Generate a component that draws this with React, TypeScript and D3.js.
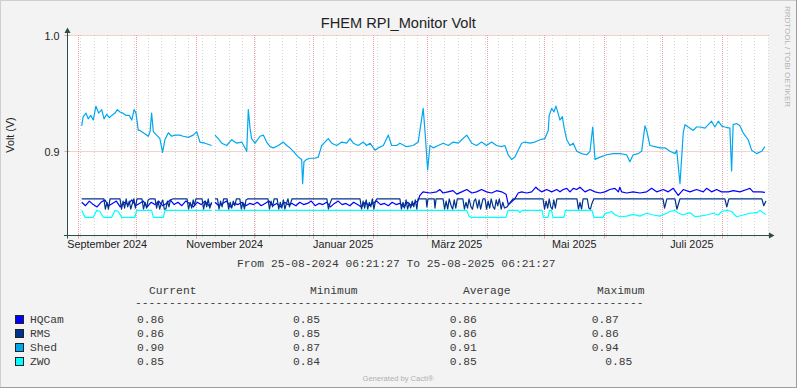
import React from 'react';
import * as d3 from 'd3';

const W = 797;
const H = 388;
const START = new Date(2024, 7, 25, 6, 21, 27);
const END = new Date(2025, 7, 25, 6, 21, 27);
const DAY = 86400000;

type P = [number, number] | null; // [days since START, volt]

const shed: P[] = [[8.5,0.922],[9.3,0.930],[10.7,0.933],[11.9,0.928],[13.2,0.931],[14.5,0.927],[15.9,0.939],[17.3,0.933],[18.9,0.936],[20.1,0.928],[21.5,0.932],[22.8,0.929],[24.1,0.931],[25.8,0.933],[27.0,0.936],[28.4,0.934],[29.8,0.933],[31.5,0.931],[33.2,0.931],[34.5,0.927],[35.7,0.936],[36.7,0.933],[37.9,0.918],[38.8,0.918],[40.5,0.916],[43.1,0.913],[44.0,0.917],[44.8,0.933],[45.7,0.917],[47.4,0.914],[49.1,0.911],[50.5,0.899],[51.7,0.910],[53.5,0.916],[55.2,0.913],[56.9,0.914],[59.5,0.914],[61.2,0.913],[63.8,0.912],[66.4,0.914],[68.2,0.917],[69.9,0.908],[72.5,0.907],[76.0,0.905],null,[77.7,0.914],[79.4,0.911],[81.2,0.907],[83.8,0.905],[86.4,0.910],[89.0,0.907],[91.6,0.908],[94.2,0.900],[95.0,0.936],[95.9,0.920],[96.7,0.911],[98.5,0.907],[101.1,0.913],[102.8,0.914],[104.5,0.908],[106.3,0.904],[108.0,0.903],[110.6,0.905],[113.2,0.908],[114.9,0.905],[116.6,0.903],[118.4,0.900],[121.0,0.895],[122.7,0.893],[123.2,0.872],[123.9,0.891],[125.3,0.893],[127.0,0.894],[129.6,0.894],[131.3,0.895],[133.1,0.905],[134.8,0.908],[136.5,0.911],[138.3,0.907],[140.9,0.905],[143.5,0.908],[146.1,0.907],[147.8,0.911],[149.5,0.907],[152.1,0.905],[154.7,0.908],[156.4,0.905],[158.2,0.907],[160.8,0.901],[162.5,0.903],[165.1,0.905],[167.7,0.914],[169.4,0.905],[172.0,0.905],[173.7,0.907],[177.2,0.904],[180.6,0.905],[183.2,0.908],[185.8,0.937],[186.7,0.918],[188.1,0.884],[189.3,0.905],[191.0,0.903],[193.6,0.905],[196.2,0.907],[198.8,0.905],[201.4,0.908],[204.0,0.907],[205.8,0.910],[208.4,0.914],[211.0,0.907],[213.5,0.905],[216.1,0.908],[218.7,0.905],[221.3,0.908],[223.9,0.905],[226.5,0.904],[228.2,0.905],[229.9,0.897],[231.7,0.893],[233.4,0.895],[235.1,0.901],[236.9,0.907],[238.6,0.908],[241.2,0.907],[243.8,0.908],[246.4,0.910],[249.0,0.911],[250.7,0.918],[251.2,0.931],[252.5,0.937],[253.7,0.934],[254.7,0.939],[255.8,0.933],[256.8,0.927],[258.0,0.930],[259.0,0.920],[260.3,0.910],[262.0,0.905],[263.7,0.907],[265.5,0.900],[268.1,0.898],[270.7,0.897],[272.4,0.900],[273.8,0.921],[275.0,0.893],[277.6,0.895],[281.0,0.897],[284.5,0.898],[287.9,0.898],[291.4,0.897],[293.1,0.891],[294.8,0.897],[297.4,0.898],[299.2,0.900],[300.9,0.922],[301.8,0.918],[303.5,0.905],[306.1,0.904],[308.7,0.903],[311.3,0.903],[313.9,0.900],[316.5,0.898],[317.4,0.901],[319.1,0.872],[320.8,0.916],[321.7,0.923],[324.3,0.920],[326.0,0.918],[327.7,0.921],[329.5,0.921],[332.1,0.920],[333.8,0.923],[335.5,0.926],[337.2,0.921],[339.0,0.926],[340.7,0.922],[342.4,0.921],[345.0,0.920],[345.9,0.883],[346.7,0.923],[348.5,0.924],[350.2,0.922],[351.9,0.916],[354.5,0.910],[356.3,0.901],[358.9,0.898],[361.5,0.900],[363.2,0.904]];

const zwo: P[] = [[8.5,0.849],[10.2,0.843],[14.5,0.843],[16.3,0.849],[18.0,0.848],[19.7,0.843],[24.1,0.843],[25.8,0.849],[27.5,0.848],[29.3,0.843],[36.2,0.843],[37.0,0.849],[44.8,0.849],[45.7,0.843],[50.9,0.843],[51.7,0.849],[76.0,0.849],null,[77.7,0.849],[208.4,0.849],[209.6,0.844],[210.6,0.843],[228.8,0.843],[229.8,0.849],[235.0,0.849],[236.0,0.847],[237.1,0.849],[247.5,0.849],[248.2,0.843],[250.6,0.843],[251.4,0.849],[252.4,0.849],[253.2,0.843],[258.9,0.843],[259.6,0.849],[273.4,0.849],[274.4,0.843],[279.1,0.843],[280.1,0.846],[283.6,0.848],[285.4,0.845],[288.0,0.8435],[291.4,0.844],[294.8,0.8455],[298.3,0.844],[301.8,0.8465],[305.2,0.845],[308.7,0.844],[312.2,0.8465],[313.9,0.848],[316.5,0.849],[318.0,0.847],[320.6,0.845],[324.3,0.847],[326.9,0.8435],[329.5,0.844],[332.9,0.845],[336.4,0.8465],[339.0,0.845],[340.7,0.848],[343.3,0.849],[345.9,0.848],[348.5,0.8435],[351.9,0.845],[355.4,0.8465],[358.9,0.847],[360.6,0.849],[362.3,0.847],[363.7,0.8455]];

const rms: P[] = [[8.5,0.859],[20.0,0.859],[20.8,0.850],[21.6,0.856],[22.4,0.850],[23.2,0.859],[28.4,0.859],[29.2,0.850],[30.0,0.857],[30.8,0.851],[31.6,0.859],[32.4,0.852],[33.2,0.857],[34.0,0.850],[34.8,0.855],[35.6,0.859],[36.4,0.851],[37.2,0.859],[39.8,0.859],[40.6,0.850],[41.4,0.856],[42.2,0.851],[43.0,0.858],[44.0,0.859],[46.6,0.859],[47.4,0.851],[48.2,0.857],[49.0,0.850],[49.8,0.855],[50.6,0.858],[51.4,0.850],[52.2,0.850],[53.0,0.857],[53.8,0.852],[54.6,0.858],[55.9,0.859],[63.2,0.859],[64.0,0.850],[64.8,0.856],[65.6,0.851],[66.4,0.858],[67.0,0.853],[67.8,0.859],[71.0,0.859],[71.8,0.850],[72.6,0.857],[73.4,0.852],[74.2,0.859],[75.0,0.851],[76.0,0.856],null,[77.7,0.859],[79.0,0.859],[79.8,0.850],[80.6,0.857],[81.4,0.852],[82.2,0.859],[84.0,0.859],[84.8,0.850],[85.6,0.856],[86.4,0.851],[87.2,0.857],[88.0,0.853],[88.8,0.859],[90.6,0.859],[91.4,0.850],[92.2,0.856],[93.0,0.850],[93.8,0.858],[94.8,0.859],[105.2,0.859],[106.0,0.850],[106.8,0.857],[107.6,0.852],[108.4,0.859],[110.0,0.859],[110.8,0.850],[111.6,0.856],[112.4,0.851],[113.2,0.858],[114.0,0.850],[114.8,0.855],[115.6,0.859],[116.4,0.852],[117.7,0.859],[135.8,0.859],[136.6,0.850],[137.4,0.855],[138.4,0.859],[153.0,0.859],[153.8,0.850],[154.6,0.857],[155.4,0.851],[156.2,0.858],[157.0,0.850],[157.8,0.856],[158.6,0.852],[159.4,0.859],[160.2,0.850],[161.0,0.857],[161.8,0.859],[173.7,0.859],[174.5,0.850],[175.3,0.856],[176.1,0.851],[176.9,0.858],[177.7,0.850],[178.5,0.855],[179.3,0.851],[180.1,0.857],[180.9,0.852],[181.7,0.858],[182.5,0.850],[183.1,0.859],[187.3,0.859],[187.7,0.852],[188.3,0.859],[191.5,0.859],[191.9,0.851],[192.5,0.859],[196.1,0.859],[196.9,0.850],[197.7,0.857],[198.5,0.850],[199.3,0.859],[200.3,0.853],[201.1,0.850],[201.9,0.858],[202.7,0.851],[203.5,0.859],[206.4,0.859],[207.2,0.850],[208.0,0.856],[208.8,0.851],[209.6,0.859],[210.6,0.852],[211.4,0.850],[212.2,0.857],[213.0,0.859],[214.0,0.851],[214.8,0.858],[215.6,0.850],[216.8,0.859],[217.9,0.859],[218.7,0.850],[219.5,0.857],[220.3,0.851],[221.1,0.859],[222.1,0.852],[222.9,0.850],[223.7,0.858],[224.5,0.853],[225.3,0.859],[226.3,0.850],[227.1,0.856],[228.0,0.851],[229.3,0.852],[232.4,0.859],[248.0,0.859],[248.8,0.850],[249.6,0.857],[250.4,0.851],[251.2,0.859],[252.0,0.852],[252.8,0.850],[253.6,0.858],[254.4,0.851],[255.2,0.859],[265.6,0.859],[266.4,0.850],[267.2,0.856],[268.0,0.850],[268.8,0.859],[271.0,0.859],[271.8,0.851],[272.6,0.850],[273.4,0.855],[274.4,0.859],[310.3,0.859],[311.1,0.851],[312.3,0.859],[316.5,0.859],[317.5,0.850],[319.1,0.859],[342.4,0.859],[343.4,0.852],[344.5,0.859],[361.6,0.859],[362.6,0.853],[363.7,0.857]];

const hqcam: P[] = [[8.5,0.856],[10.5,0.853],[12.5,0.857],[14.5,0.854],[16.5,0.852],[18.5,0.856],[20.5,0.858],[22.5,0.853],[24.5,0.855],[26.5,0.857],[28.5,0.852],[30.5,0.856],[32.5,0.854],[34.5,0.858],[36.5,0.853],[38.5,0.855],[40.5,0.857],[42.5,0.852],[44.5,0.856],[46.5,0.854],[48.5,0.857],[50.5,0.853],[52.5,0.855],[54.5,0.858],[56.5,0.854],[58.5,0.856],[60.5,0.853],[62.5,0.857],[64.5,0.855],[66.5,0.852],[68.5,0.856],[70.5,0.854],[72.5,0.857],[74.5,0.853],[76.0,0.855],null,[77.7,0.856],[79.7,0.853],[81.7,0.855],[83.7,0.857],[85.7,0.852],[87.7,0.855],[89.7,0.854],[91.7,0.856],[93.7,0.853],[95.7,0.855],[97.7,0.854],[99.7,0.856],[101.7,0.853],[103.7,0.855],[105.7,0.857],[107.7,0.853],[109.7,0.855],[111.7,0.852],[113.7,0.856],[115.7,0.854],[117.7,0.855],[119.7,0.853],[121.7,0.856],[123.7,0.854],[125.7,0.855],[127.7,0.857],[129.7,0.853],[131.7,0.855],[133.7,0.854],[135.7,0.856],[137.7,0.852],[139.7,0.855],[141.7,0.857],[143.7,0.854],[145.7,0.855],[147.7,0.853],[149.7,0.856],[151.7,0.854],[153.7,0.852],[155.7,0.856],[157.7,0.853],[159.7,0.855],[161.7,0.857],[163.7,0.854],[165.7,0.855],[167.7,0.853],[169.7,0.856],[171.7,0.854],[173.7,0.855],[175.7,0.852],[177.7,0.856],[179.7,0.853],[181.7,0.856],[183.0,0.857],[184.1,0.862],[185.7,0.865],[189.3,0.864],[192.8,0.865],[194.5,0.867],[196.1,0.864],[198.7,0.865],[201.3,0.866],[203.2,0.863],[205.8,0.865],[208.4,0.867],[211.0,0.864],[213.5,0.865],[216.1,0.867],[218.7,0.865],[221.3,0.864],[223.9,0.866],[226.5,0.865],[228.8,0.863],[230.0,0.854],[231.7,0.8565],[233.4,0.859],[235.1,0.864],[236.9,0.865],[239.5,0.864],[242.1,0.865],[244.3,0.869],[245.5,0.867],[247.3,0.865],[249.9,0.867],[252.5,0.865],[255.1,0.867],[256.8,0.865],[258.5,0.867],[260.3,0.868],[262.0,0.865],[263.7,0.868],[265.5,0.867],[267.2,0.869],[269.8,0.865],[272.4,0.867],[275.0,0.865],[277.6,0.864],[280.1,0.865],[282.7,0.867],[285.3,0.868],[287.1,0.865],[287.9,0.869],[288.8,0.865],[291.4,0.864],[294.8,0.865],[298.3,0.864],[301.8,0.865],[304.4,0.868],[307.0,0.865],[310.4,0.867],[313.0,0.865],[315.6,0.868],[318.2,0.862],[320.8,0.867],[324.3,0.865],[327.7,0.867],[331.2,0.865],[332.9,0.868],[335.5,0.865],[338.1,0.867],[340.7,0.865],[344.2,0.865],[346.8,0.866],[350.2,0.865],[353.7,0.867],[355.4,0.868],[357.1,0.865],[360.6,0.865],[363.2,0.8646]];

const yTicks = [0.9, 1.0];
const yMin = 0.8273;
const yMax = 1.0;
const monthNamesDe = ['Januar', 'Februar', 'März', 'April', 'Mai', 'Juni', 'Juli', 'August', 'September', 'Oktober', 'November', 'Dezember'];

const seriesNames = ['HQCam', 'RMS', 'Shed', 'ZWO'];
const seriesColors = ['#0000FF', '#00338C', '#00A8F0', '#00FFFF'];
const seriesData = [hqcam, rms, shed, zwo];
const currentVals = ['0.86', '0.86', '0.90', '0.85'];
const minimumVals = ['0.85', '0.85', '0.87', '0.84'];
const averageVals = ['0.86', '0.86', '0.91', '0.85'];
const maximumVals = ['0.87', '0.86', '0.94', '  0.85'];
const headers = ['Current', 'Minimum', 'Average', 'Maximum'];

const SANS = '"Liberation Sans", Arial, sans-serif';
const MONO = '"Liberation Mono", "Courier New", monospace';

export default function App() {
  const x = d3.scaleTime().domain([START, END]).range([65.3, 768.4]);
  const y = d3.scaleLinear().domain([yMin, yMax]).range([235.5, 35.5]);
  const x0 = 67.5;
  const yAxis = 235.5;
  const plotRight = 768.4;

  const line = d3
    .line<P>()
    .defined((d) => d != null)
    .x((d) => x(new Date(START.getTime() + (d as [number, number])[0] * DAY)))
    .y((d) => y((d as [number, number])[1]));

  const minor = d3.timeMonday.range(START, END).map((d) => Math.round(x(d)) + 0.5).filter((v) => v > x0);
  const major = d3.timeMonth.range(START, END).map((d) => Math.round(x(d)) + 0.5).filter((v) => v > x0);
  const labelMonths = d3.timeMonth.every(2)!.range(d3.timeMonth.floor(START), END).filter((d) => d >= START);

  const gridGrey = '#d6d6d6';
  const gridRed = '#eea0a0';
  const axisCol = '#2C4D43';
  const txt = '#3a3a3a';

  const fmt = (d: Date) => `${monthNamesDe[d.getMonth()]} ${d.getFullYear()}`;

  const rowY = [323, 337, 351, 365];
  const colX = [137, 293, 449.7, 591.7];
  const headX = [149, 310, 463, 597];

  return (
    <svg width={W} height={H} style={{ position: 'absolute', left: 0, top: 0 }} xmlns="http://www.w3.org/2000/svg">
      <rect x={0} y={0} width={W} height={H} fill="#f3f3f3" />
      <line x1={0} y1={0.5} x2={W} y2={0.5} stroke="#cfcfcf" />
      <line x1={0.5} y1={0} x2={0.5} y2={H} stroke="#cfcfcf" />
      <line x1={0} y1={H - 0.5} x2={W} y2={H - 0.5} stroke="#9e9e9e" />
      <line x1={W - 0.5} y1={0} x2={W - 0.5} y2={H} stroke="#9e9e9e" />

      <rect x={67} y={35} width={plotRight - 67} height={201} fill="#ffffff" />

      {minor.map((gx, i) => (
        <line key={'mi' + i} x1={gx} y1={35} x2={gx} y2={yAxis} stroke={gridGrey} strokeDasharray="1,2" />
      ))}
      {major.map((gx, i) => (
        <line key={'ma' + i} x1={gx} y1={35} x2={gx} y2={yAxis} stroke={gridRed} strokeDasharray="1,1" />
      ))}
      {yTicks.map((t, i) => {
        const gy = Math.round(y(t) - 0.5) + 0.5;
        return (
          <g key={'yt' + i}>
            <line x1={x0} y1={gy} x2={plotRight} y2={gy} stroke={gridRed} strokeDasharray="1,1" />
            <line x1={x0 - 3} y1={gy} x2={x0 + 2} y2={gy} stroke={gridRed} />
            <text x={59.5} y={gy + 4} fontFamily={SANS} fontSize={10.8} textAnchor="end" fill="#222">
              {t.toFixed(1)}
            </text>
          </g>
        );
      })}

      {minor.map((gx, i) => (
        <line key={'mit' + i} x1={gx} y1={yAxis - 1} x2={gx} y2={yAxis + 2} stroke={gridGrey} />
      ))}
      {major.map((gx, i) => (
        <line key={'mat' + i} x1={gx} y1={yAxis - 2} x2={gx} y2={yAxis + 3} stroke={gridRed} />
      ))}

      {seriesData.map((s, i) => (
        <path key={'s' + i} d={line(s) || ''} fill="none" stroke={seriesColors[i]} strokeWidth={1.2} strokeLinejoin="round" />
      ))}

      <line x1={x0} y1={yAxis + 3} x2={x0} y2={31} stroke={axisCol} />
      <path d={`M${x0 - 3},33 L${x0},27.5 L${x0 + 3},33 Z`} fill={axisCol} />
      <line x1={64} y1={yAxis} x2={770} y2={yAxis} stroke={axisCol} />
      <path d={`M769,${yAxis - 3} L774.5,${yAxis} L769,${yAxis + 3} Z`} fill={axisCol} />

      {labelMonths.map((m, i) => {
        const next = d3.timeMonth.offset(m, 1);
        const cx = (x(m) + x(next)) / 2;
        return (
          <text key={'xl' + i} x={cx} y={248} fontFamily={SANS} fontSize={10.8} textAnchor="middle" fill="#222">
            {fmt(m)}
          </text>
        );
      })}

      <text x={398.3} y={28} fontFamily={SANS} fontSize={14.6} textAnchor="middle" fill="#222">
        FHEM RPI_Monitor Volt
      </text>
      <text transform="translate(14,135) rotate(-90)" fontFamily={SANS} fontSize={10.8} textAnchor="middle" fill="#222">
        Volt (V)
      </text>
      <text transform="translate(784.5,6) rotate(90)" fontFamily={SANS} fontSize={8} fill="#b4b4b4" textAnchor="start">
        RRDTOOL / TOBI OETIKER
      </text>

      <text x={396.3} y={267} fontFamily={MONO} fontSize={11.3} textAnchor="middle" fill={txt}>
        From 25-08-2024 06:21:27 To 25-08-2025 06:21:27
      </text>

      {headers.map((h, i) => (
        <text key={'h' + i} x={headX[i]} y={294} fontFamily={MONO} fontSize={11.3} fill={txt}>
          {h}
        </text>
      ))}
      <text x={135} y={306} fontFamily={MONO} fontSize={11.3} fill={txt}>
        {'-'.repeat(75)}
      </text>
      {seriesNames.map((n, i) => (
        <g key={'lg' + i}>
          <rect x={15.5} y={rowY[i] - 7.5} width={8} height={8} fill={seriesColors[i]} stroke="#222" strokeWidth={1} />
          <text x={30} y={rowY[i]} fontFamily={MONO} fontSize={11.3} fill={txt}>
            {n}
          </text>
          {[currentVals, minimumVals, averageVals, maximumVals].map((arr, j) => (
            <text key={'v' + j} x={colX[j]} y={rowY[i]} fontFamily={MONO} fontSize={11.3} fill={txt} style={{ whiteSpace: 'pre' }}>
              {arr[i]}
            </text>
          ))}
        </g>
      ))}

      <text x={398} y={381} fontFamily={SANS} fontSize={7.6} textAnchor="middle" fill="#b0b0b0">
        Generated by Cacti®
      </text>
    </svg>
  );
}
